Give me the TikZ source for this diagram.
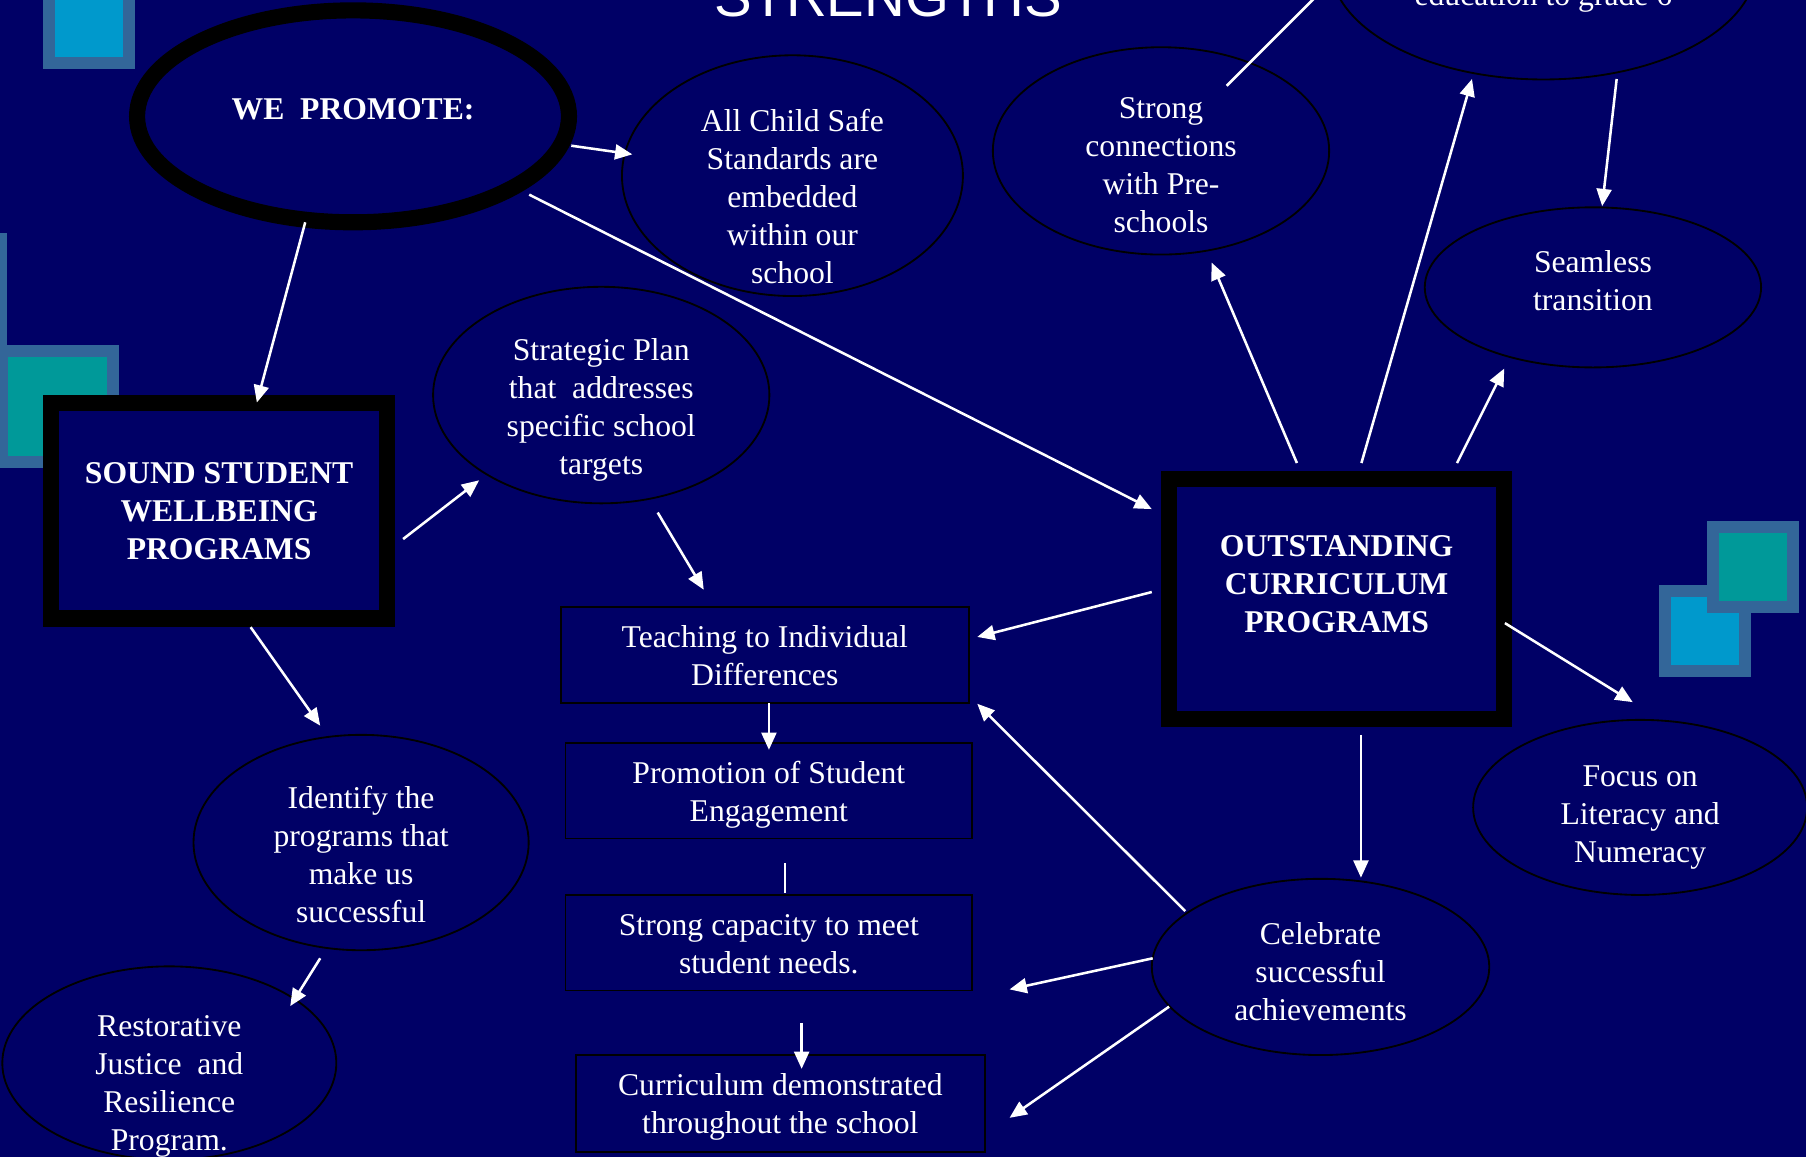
\documentclass[tikz,border=0pt]{standalone}
\usepackage{fontspec}
\setmainfont{Liberation Serif}
\newfontfamily\titlefont{Liberation Sans}
\usetikzlibrary{shapes.geometric,arrows.meta}
\definecolor{navy}{HTML}{000066}
\definecolor{sqborder}{HTML}{336699}
\definecolor{sqblue}{HTML}{0099CC}
\definecolor{sqteal}{HTML}{009999}
\tikzset{
  txt/.style={text=white, font=\fontsize{27.5}{33}\selectfont, align=center, inner sep=0pt},
  btxt/.style={txt, font=\fontsize{27.5}{33}\selectfont\bfseries},
  bub/.style={draw=black, line width=1.6pt, ellipse, inner sep=0pt, fill=navy},
  tbox/.style={draw=black, line width=1.6pt, rectangle, inner sep=0pt, fill=navy},
  heavybox/.style={draw=black, line width=14pt, rectangle, inner sep=0pt, fill=navy, btxt},
  arr/.style={draw=white, line width=2.2pt, -{Triangle[length=15pt,width=13pt]}},
  plainline/.style={draw=white, line width=2.2pt},
}
\begin{document}
\begin{tikzpicture}[x=1pt,y=-1pt]
\useasboundingbox (0,0) rectangle (1568,1004.5);
\clip (0,0) rectangle (1568,1004.5);
\fill[navy] (0,0) rectangle (1568,1004.5);

% decorative squares
\fill[sqborder] (-100.7,202.3) rectangle (6.1,309);
\fill[sqblue] (-90.3,212.7) rectangle (-4.3,298.6);
\fill[sqborder] (-3.5,299.5) rectangle (103.3,406.3);
\fill[sqteal] (7,309.9) rectangle (92.9,395.9);
\fill[sqborder] (37.3,-20) rectangle (117.2,59.9);
\fill[sqblue] (47.7,-9.6) rectangle (106.8,49.5);
\fill[sqborder] (1440.3,508) rectangle (1520.2,587.8);
\fill[sqblue] (1450.7,518.4) rectangle (1509.8,577.4);
\fill[sqborder] (1482,452.3) rectangle (1562,532.2);
\fill[sqteal] (1492.4,462.7) rectangle (1551.6,521.8);

% title
\node[text=white, font=\titlefont\fontsize{49}{55}\selectfont, anchor=base, inner sep=0pt] (title) at (771,14) {STRENGTHS};

% promote ellipse
\node[draw=black, line width=14pt, ellipse, fill=navy, inner sep=0pt, minimum width=375pt, minimum height=184pt,
  label={[btxt,yshift=6pt]center:{WE\ \ PROMOTE:}}] (we) at (306.5,101) {};

% ellipses
\node[bub, minimum width=296pt, minimum height=209pt,
  label={[txt,yshift=-18.5pt]center:{All Child Safe\\Standards are\\embedded\\within our\\school}}] (acs) at (688,152.5) {};
\node[bub, minimum width=292pt, minimum height=180pt,
  label={[txt,yshift=-12pt]center:{Strong\\connections\\with Pre-\\schools}}] (pre) at (1008,131) {};
\node[bub, minimum width=370pt, minimum height=200pt] (grade) at (1340,-31) {};
\node[txt, anchor=base] (gradetxt) at (1340,5.2) {education to grade 6};
\node[bub, minimum width=292pt, minimum height=188pt,
  label={[txt,yshift=-12.5pt]center:{Strategic Plan\\that\ \ addresses\\specific school\\targets}}] (plan) at (522,343) {};
\node[bub, minimum width=292pt, minimum height=139pt,
  label={[txt,yshift=6pt]center:{Seamless\\transition}}] (seam) at (1383,249.5) {};
\node[bub, minimum width=290pt, minimum height=152pt,
  label={[txt,yshift=-8.5pt]center:{Focus on\\Literacy and\\Numeracy}}] (focus) at (1424,701) {};
\node[bub, minimum width=291pt, minimum height=187pt,
  label={[txt,yshift=-10.5pt]center:{Identify the\\programs that\\make us\\successful}}] (ident) at (313.5,731.5) {};
\node[bub, minimum width=290pt, minimum height=168pt,
  label={[txt,yshift=-20pt]center:{Restorative\\Justice\ \ and\\Resilience\\Program.}}] (rest) at (147,923) {};
\node[bub, minimum width=293pt, minimum height=153pt,
  label={[txt,yshift=-4.5pt]center:{Celebrate\\successful\\achievements}}] (celeb) at (1146.5,839.5) {};

% thin boxes
\node[tbox, minimum width=354pt, minimum height=83pt,
  label={[txt,yshift=-1pt]center:{Teaching to Individual\\Differences}}] (teach) at (664,568.5) {};
\node[tbox, minimum width=353pt, minimum height=83pt,
  label={[txt,yshift=-3.6pt]center:{Promotion of Student\\Engagement}}] (promo) at (667.5,686.5) {};
\node[tbox, minimum width=353pt, minimum height=83pt,
  label={[txt,yshift=-1pt]center:{Strong capacity to meet\\student needs.}}] (cap) at (667.5,818.5) {};
\node[tbox, minimum width=355pt, minimum height=84pt,
  label={[txt,yshift=-3pt]center:{Curriculum demonstrated\\throughout the school}}] (curr) at (677.5,958) {};

% heavy boxes
\node[heavybox, minimum width=291.5pt, minimum height=187pt] (sound) at (190.25,443.5) {SOUND STUDENT\\WELLBEING\\PROGRAMS};
\node[heavybox, minimum width=291pt, minimum height=208pt,
  label={[btxt,yshift=12.5pt]center:{OUTSTANDING\\CURRICULUM\\PROGRAMS}}] (out) at (1160.5,520) {};

% connector end points
\coordinate (weS) at (265,193);
\coordinate (soundN) at (223,349.5);
\coordinate (weE) at (496,126.5);
\coordinate (acsW) at (549,134);
\coordinate (weSE) at (459.5,169);
\coordinate (outNW) at (1000,442);
\coordinate (soundE) at (350,468);
\coordinate (planSW) at (416,417);
\coordinate (soundS) at (217.6,544.5);
\coordinate (identN) at (278,630);
\coordinate (planS) at (571,445);
\coordinate (teachN) at (611,512);
\coordinate (outW) at (1000,514);
\coordinate (teachE) at (848.5,553);
\coordinate (teachS) at (667.6,610.5);
\coordinate (promoN) at (667.6,651);
\coordinate (promoS) at (681.5,749.5);
\coordinate (capN) at (681.5,775.5);
\coordinate (capS) at (696,888);
\coordinate (currN) at (696,928);
\coordinate (celebNW) at (1029,791);
\coordinate (teachSE) at (848.5,611);
\coordinate (celebW) at (1000.8,832);
\coordinate (capE) at (876.5,859);
\coordinate (celebSW) at (1015,874);
\coordinate (currE) at (876.5,970.5);
\coordinate (outS) at (1181.6,638);
\coordinate (celebN) at (1181.6,762);
\coordinate (outE) at (1306.6,541);
\coordinate (focusNW) at (1417.5,609.6);
\coordinate (outN1) at (1126,402);
\coordinate (preS) at (1052,228);
\coordinate (outN2) at (1182,402);
\coordinate (gradeS) at (1278,68.6);
\coordinate (outN3) at (1265,402);
\coordinate (seamSW) at (1306,320);
\coordinate (gradeSE) at (1403.6,68.6);
\coordinate (seamN) at (1391,179);
\coordinate (preNE) at (1065,74.5);
\coordinate (offTop) at (1160,-20.5);
\coordinate (identS) at (278,832);
\coordinate (restNE) at (252,873.5);

% connectors
\draw[arr] (weS) -- (soundN);
\draw[arr] (weE) -- (acsW);
\draw[arr] (weSE) -- (outNW);
\draw[arr] (soundE) -- (planSW);
\draw[arr] (soundS) -- (identN);
\draw[arr] (planS) -- (teachN);
\draw[arr] (outW) -- (teachE);
\draw[arr] (teachS) -- (promoN);
\draw[plainline] (promoS) -- (capN);
\draw[arr] (capS) -- (currN);
\draw[arr] (celebNW) -- (teachSE);
\draw[arr] (celebW) -- (capE);
\draw[arr] (celebSW) -- (currE);
\draw[arr] (outS) -- (celebN);
\draw[arr] (outE) -- (focusNW);
\draw[arr] (outN1) -- (preS);
\draw[arr] (outN2) -- (gradeS);
\draw[arr] (outN3) -- (seamSW);
\draw[arr] (gradeSE) -- (seamN);
\draw[plainline] (preNE) -- (offTop);
\draw[arr] (identS) -- (restNE);
\end{tikzpicture}
\end{document}
